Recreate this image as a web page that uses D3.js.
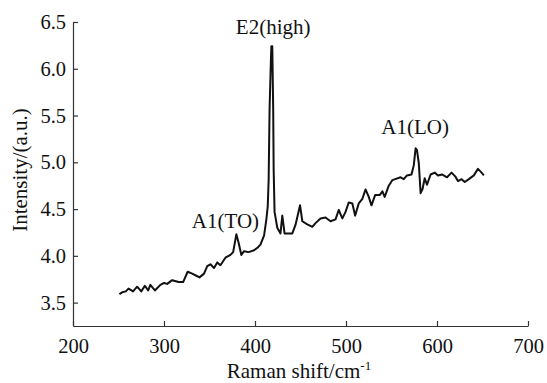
<!DOCTYPE html>
<html>
<head>
<meta charset="utf-8">
<script src="https://cdn.jsdelivr.net/npm/d3@7"></script>
<style>
  body { margin: 0; background: #fff; }
  .axis path, .axis line { stroke: #333; stroke-width: 1.2; }
  .line { fill: none; stroke: #111; stroke-width: 2; stroke-linejoin: round; }
</style>
</head>
<body>
<div id="chart"></div>
<script>
// Raman spectrum
var shift = [251, 254, 258, 261, 266, 270.5, 275, 279, 282.6, 285, 290, 296, 300, 303.5, 309, 316, 321,
  326, 331, 335, 339, 344, 347.5, 351, 355, 358.5, 362, 367.5, 373, 376, 379.5, 382, 385, 388, 393, 399,
  403, 406, 410, 412.5, 414, 415, 416, 417.5, 418, 419, 420, 420.5, 421.5, 424.5, 428, 430, 432.5, 437,
  441, 444.5, 449.5, 452, 457, 463, 466.5, 472, 477.5, 483, 488.5, 492, 496, 499.5, 503, 507, 510, 514,
  518, 521.5, 525, 528, 532, 537, 540, 542.5, 547, 551, 554, 560, 563.5, 567, 572, 574.5, 576.5, 578,
  580, 582, 584, 586.5, 589, 593, 597.5, 601, 605.5, 611, 616, 620, 623, 627, 630.5, 635, 640.5, 645,
  649, 651.5];
var intensity = [3.59, 3.61, 3.62, 3.65, 3.62, 3.67, 3.62, 3.68, 3.63, 3.69, 3.63, 3.69, 3.71, 3.70, 3.74,
  3.72, 3.72, 3.83, 3.81, 3.79, 3.77, 3.81, 3.89, 3.91, 3.87, 3.93, 3.90, 3.98, 4.01, 4.04, 4.23, 4.14,
  4.01, 4.05, 4.04, 4.06, 4.09, 4.12, 4.22, 4.39, 4.53, 4.81, 5.56, 6.10, 6.24, 6.24, 5.56, 4.92, 4.47,
  4.30, 4.24, 4.43, 4.24, 4.24, 4.24, 4.33, 4.54, 4.37, 4.34, 4.31, 4.35, 4.40, 4.41, 4.37, 4.39, 4.49,
  4.40, 4.47, 4.57, 4.56, 4.43, 4.56, 4.61, 4.71, 4.63, 4.54, 4.65, 4.65, 4.69, 4.63, 4.75, 4.81, 4.82,
  4.84, 4.82, 4.86, 4.87, 4.97, 5.15, 5.13, 4.99, 4.67, 4.71, 4.83, 4.76, 4.87, 4.89, 4.86, 4.87, 4.84,
  4.89, 4.85, 4.80, 4.82, 4.79, 4.82, 4.86, 4.93, 4.89, 4.86];

var xTicks = [200, 300, 400, 500, 600, 700];
var yTicks = [3.5, 4.0, 4.5, 5.0, 5.5, 6.0, 6.5];

// peak labels
var peakNames = ["E2(high)", "A1(LO)", "A1(TO)"];
var peakX = [420, 576, 367.5];
var peakY = [6.37, 5.30, 4.30];

var serif = "'Liberation Serif', 'Times New Roman', Times, serif";

function init() {
  const margin = { top: 22, right: 19, bottom: 57, left: 73 };
  var w = 547 - margin.left - margin.right;
  var h = 383 - margin.top - margin.bottom;

  var dataset = shift.map(function (d, i) {
    return { shift: d, value: intensity[i] };
  });

  var xScale = d3.scaleLinear().domain([200, 700]).range([0, w]);
  var yScale = d3.scaleLinear().domain([3.25, 6.5]).range([h, 0]);

  var xAxis = d3.axisBottom(xScale).tickValues(xTicks).tickSizeInner(-5).tickSizeOuter(0)
    .tickPadding(12).tickFormat(d3.format("d"));
  var yAxis = d3.axisLeft(yScale).tickValues(yTicks).tickSizeInner(-5).tickSizeOuter(0)
    .tickPadding(7).tickFormat(d3.format(".1f"));

  var line = d3.line()
    .x(function (d) { return xScale(d.shift); })
    .y(function (d) { return yScale(d.value); });

  var svg = d3.select("#chart")
    .append("svg")
    .attr("width", 547)
    .attr("height", 383)
    .style("font-family", serif)
    .append("g")
    .attr("transform", "translate(" + margin.left + "," + margin.top + ")");

  svg.append("g")
    .attr("class", "axis")
    .attr("transform", "translate(0," + h + ")")
    .call(xAxis)
    .attr("font-family", serif)
    .attr("font-size", 20.5);

  svg.append("g")
    .attr("class", "axis")
    .call(yAxis)
    .attr("font-family", serif)
    .attr("font-size", 20.5);

  svg.selectAll(".axis text").attr("fill", "#111").style("font-family", serif);

  svg.append("path").datum(dataset).attr("class", "line").attr("d", line);

  // peak annotations
  svg.selectAll(".peak")
    .data(peakNames)
    .enter()
    .append("text")
    .attr("class", "peak")
    .attr("x", function (d, i) { return xScale(peakX[i]); })
    .attr("y", function (d, i) { return yScale(peakY[i]); })
    .attr("text-anchor", "middle")
    .attr("fill", "#111")
    .style("font-family", serif)
    .style("font-size", "21px")
    .text(function (d) { return d; });

  // Y-axis label
  svg.append("text")
    .attr("transform", "rotate(-90)")
    .attr("x", -148)
    .attr("y", 27 - margin.left)
    .attr("text-anchor", "middle")
    .attr("fill", "#111")
    .style("font-family", serif)
    .style("font-size", "21px")
    .text("Intensity/(a.u.)");

  // X-axis label
  var xl = svg.append("text")
    .attr("x", 226)
    .attr("y", h + 52)
    .attr("text-anchor", "middle")
    .attr("fill", "#111")
    .style("font-family", serif)
    .style("font-size", "21px");
  xl.append("tspan").text("Raman shift/cm");
  xl.append("tspan").attr("dy", -8).style("font-size", "13px").text("-1");
}

window.onload = init;
</script>
</body>
</html>
